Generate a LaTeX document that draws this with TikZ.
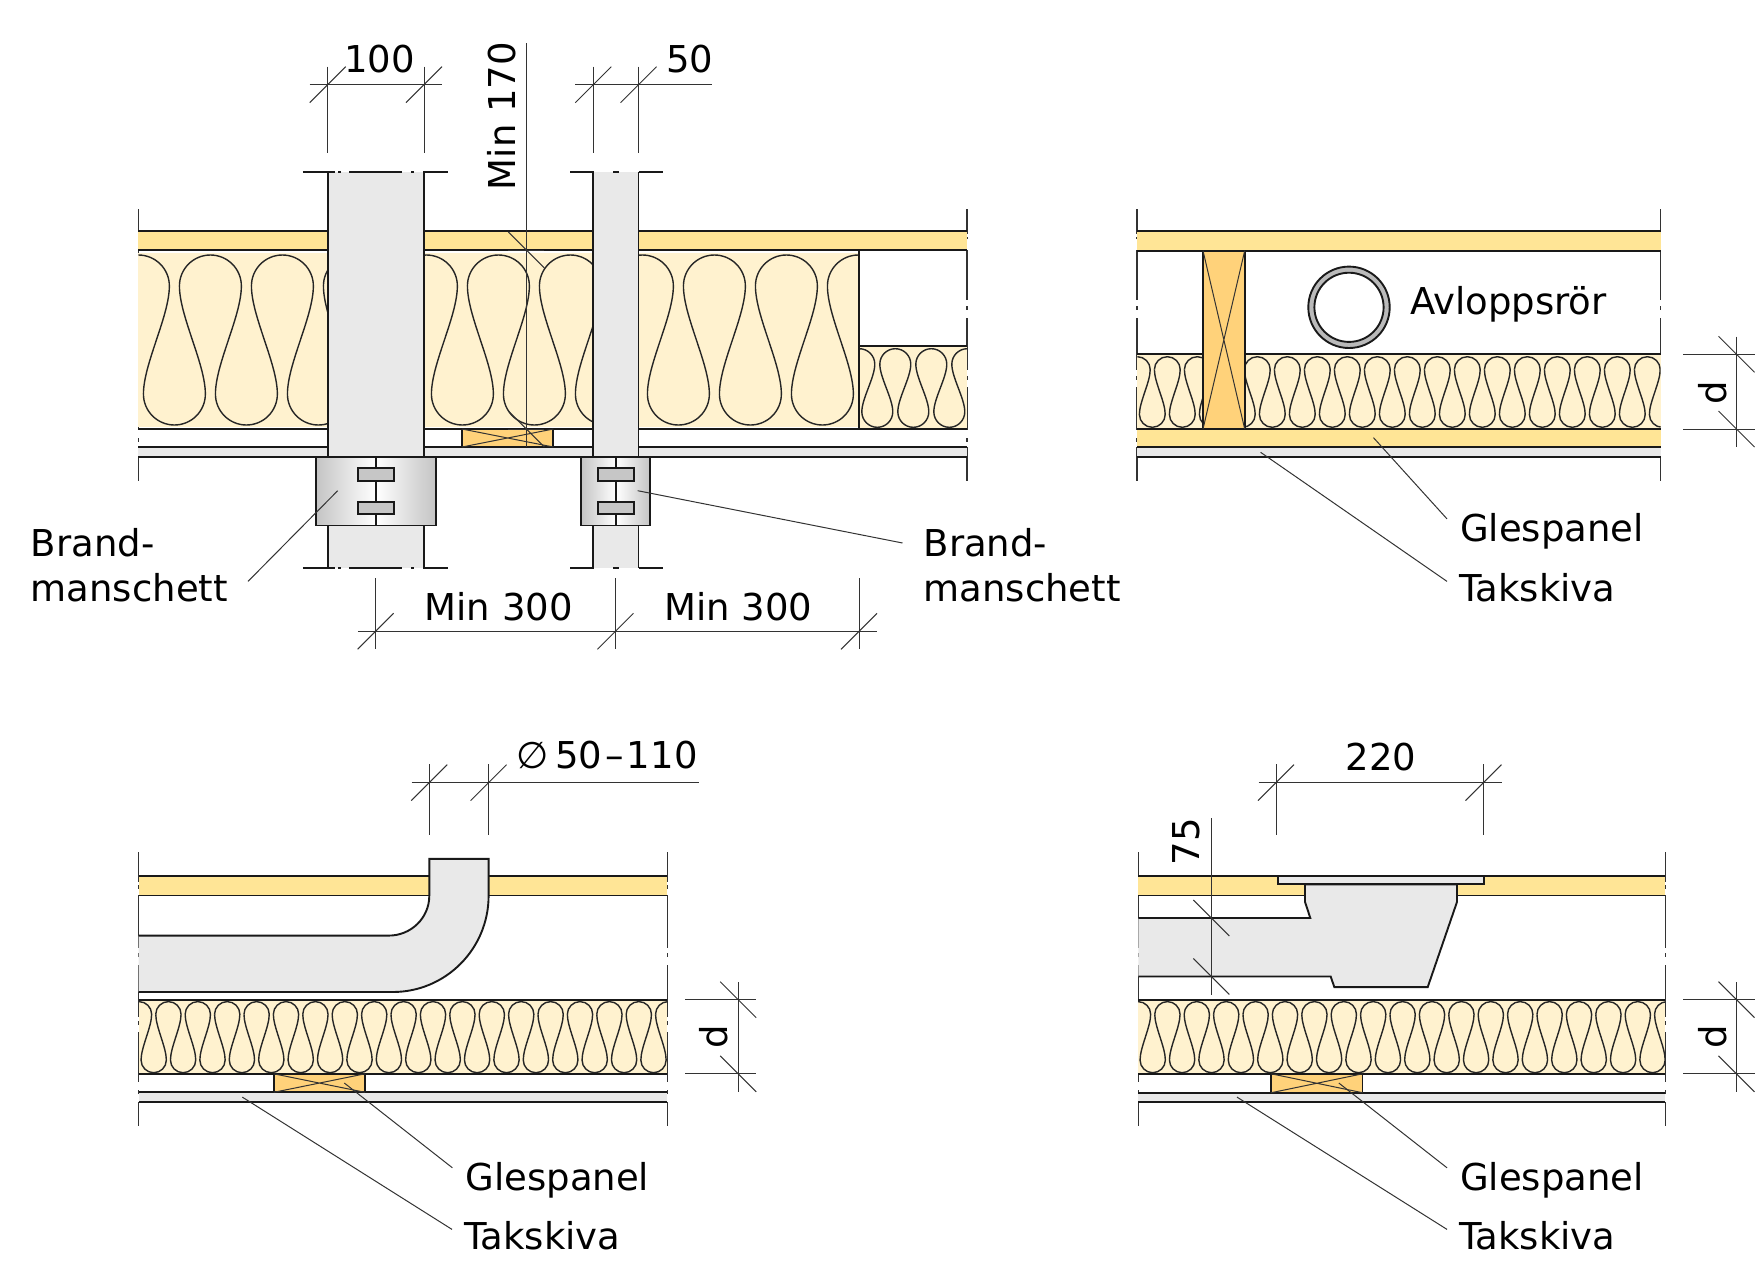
\documentclass[tikz,border=0pt]{standalone}
\usepackage{fontspec}
\setmainfont{DejaVu Sans}
\definecolor{deckyellow}{HTML}{FFE596}
\definecolor{woolyellow}{HTML}{FFF2CF}
\definecolor{timberorange}{HTML}{FFD27A}
\definecolor{boardgrey}{HTML}{E9E9E9}
\definecolor{collargrey}{HTML}{C4C4C4}
\definecolor{dimgrey}{HTML}{333333}
\newcommand{\batts}[5]{% from, to, top, bottom, period
  \fill[woolyellow] (#1,#3-2.5) rectangle (#2,#4+2);
  \begin{scope}
    \clip (#1,#3-2.5) rectangle (#2,#4+2);
    \pgfmathsetmacro{\rr}{0.43*#5}
    \pgfmathsetmacro{\kk}{0.5523*\rr}
    \pgfmathsetmacro{\aa}{0.28*(#4-#3-2*\rr)}
    \pgfmathsetmacro{\nn}{int((#2-#1)/#5)+1}
    \foreach \k in {-1,...,\nn}{
      \pgfmathsetmacro{\c}{#1+\k*#5}
      \pgfmathsetmacro{\m}{\c+0.5*#5}
      \pgfmathsetmacro{\ttop}{#3+\rr}
      \pgfmathsetmacro{\tbot}{#4-\rr}
      \draw[wool] (\c-\rr,\ttop)
        .. controls (\c-\rr,\ttop-\kk) and (\c-\kk,#3) .. (\c,#3)
        .. controls (\c+\kk,#3) and (\c+\rr,\ttop-\kk) .. (\c+\rr,\ttop)
        .. controls (\c+\rr,\ttop+\aa) and (\m-\rr,\tbot-\aa) .. (\m-\rr,\tbot)
        .. controls (\m-\rr,\tbot+\kk) and (\m-\kk,#4) .. (\m,#4)
        .. controls (\m+\kk,#4) and (\m+\rr,\tbot+\kk) .. (\m+\rr,\tbot)
        .. controls (\m+\rr,\tbot-\aa) and (\c+#5-\rr,\ttop+\aa) .. (\c+#5-\rr,\ttop);
    }
  \end{scope}
}
\newcommand{\fwdtick}[2]{\draw[dimline] (#1-18,#2+18) -- (#1+18,#2-18);}
\newcommand{\backtick}[2]{\draw[dimline] (#1-18,#2-18) -- (#1+18,#2+18);}
\newcommand{\deck}[4]{% from, to, top, bottom
  \fill[deckyellow] (#1,#3) rectangle (#2,#4);
  \draw[heavy] (#1,#3) -- (#2,#3) (#1,#4) -- (#2,#4);
}
\newcommand{\board}[4]{% from, to, top, bottom
  \fill[boardgrey] (#1,#3) rectangle (#2,#4);
  \draw[heavy] (#1,#3) -- (#2,#3) (#1,#4) -- (#2,#4);
}
\newcommand{\timber}[4]{
  \draw[heavy,fill=timberorange] (#1,#3) rectangle (#2,#4);
  \draw[leader] (#1,#3) -- (#2,#4) (#1,#4) -- (#2,#3);
}
\newcommand{\collar}[5]{% left, right, middle, clip left, clip right
  \shade[left color=collargrey,right color=collargrey,middle color=white] (#1,456.7) rectangle (#2,525.5);
  \draw[heavy] (#1,456.7) rectangle (#2,525.5);
  \draw[heavy] (#3,456.7) -- (#3,525.5);
  \draw[heavy,fill=boardgrey!85!black] (#4,468.3) rectangle (#5,480.7);
  \draw[heavy,fill=boardgrey!85!black] (#4,501.7) rectangle (#5,514);
}
\begin{document}
\begin{tikzpicture}[
    x=1pt, y=-1pt,
    every node/.style={font=\fontsize{37}{44}\selectfont, inner sep=0pt, text=black},
    heavy/.style={line width=1.9pt, color=black!90},
    wool/.style={line width=1.4pt, color=black!85},
    dimline/.style={line width=1pt, color=dimgrey},
    edge/.style={line width=1.4pt, color=black!80},
    leader/.style={line width=1pt, color=black!80},
    lbl/.style={anchor=base west},
    dimlbl/.style={anchor=base},
    dimrot/.style={anchor=base, rotate=90}
  ]
  \useasboundingbox (0,0) rectangle (1759,1269);

  \foreach \xe in {138.4,967,1137,1660.7}{
    \foreach \a/\b in {209/234,237/239,250/300,306/310,318/370,376/380,387/430,438/442,447/481}{
      \draw[edge] (\xe,\a) -- (\xe,\b);
    }
  }
  \foreach \xe in {138.7,667.3,1138.3,1665.2}{
    \foreach \a/\b in {852/882,885/889,895/948,953/957,965/1017,1021/1025,1032/1082,1090/1094,1102/1126}{
      \draw[edge] (\xe,\a) -- (\xe,\b);
    }
  }

  \batts{138.4}{859.3}{255}{425}{72}
  \batts{859.3}{967}{348.7}{427.3}{36}
  \deck{138.4}{967}{231}{250}
  \draw[heavy] (859.3,250) -- (859.3,429);
  \draw[heavy] (859.3,346) -- (967,346);
  \draw[heavy] (138.4,429) -- (967,429);
  \board{138.4}{967}{447}{456.7}
  \timber{462}{553.3}{429}{447}

  \foreach \pa/\pb/\ca/\cb/\cm/\cc/\cd in {327.7/424/315.7/435.7/375.7/358/393.7,593.3/638.5/581.3/650.3/615.7/598/633.7}{
    \fill[boardgrey] (\pa,172) rectangle (\pb,568.3);
    \draw[heavy] (\pa,172) -- (\pa,568.3) (\pb,172) -- (\pb,568.3);
    \collar{\ca}{\cb}{\cm}{\cc}{\cd}
  }
  \foreach \a/\b in {302.8/335,338/341,349/402,411/414,423/447.5,570/593.5,613/618.5,638.5/662.5}{
    \draw[heavy] (\a,172) -- (\b,172);
    \draw[heavy] (\a,568.3) -- (\b,568.3);
  }

  \draw[dimline] (309.7,84.7) -- (441.7,84.7);
  \draw[dimline] (327.7,66.7) -- (327.7,153) (424,66.7) -- (424,153);
  \fwdtick{327.7}{84.7}
  \fwdtick{424}{84.7}
  \node[dimlbl] (dimhundred) at (379.4,72.7) {100};

  \draw[dimline] (575.3,84.7) -- (712,84.7);
  \draw[dimline] (593.3,66.7) -- (593.3,153) (638.5,66.7) -- (638.5,153);
  \fwdtick{593.3}{84.7}
  \fwdtick{638.5}{84.7}
  \node[dimlbl] (dimfifty) at (690,72.7) {50};

  \draw[dimline] (526.3,43) -- (526.3,447);
  \draw[dimline] (508,250) -- (544,250) (508,429) -- (544,429);
  \backtick{526.3}{250}
  \backtick{526.3}{429}
  \node[dimrot] (dimsill) at (515.2,116) {Min 170};

  \draw[dimline] (357.8,631.3) -- (876.9,631.3);
  \draw[dimline] (375.6,578.3) -- (375.6,649.3) (615.4,578.3) -- (615.4,649.3) (859,578.3) -- (859,649.3);
  \fwdtick{375.6}{631.3}
  \fwdtick{615.4}{631.3}
  \fwdtick{859}{631.3}
  \node[dimlbl] (dimleft) at (498.7,620) {Min 300};
  \node[dimlbl] (dimright) at (738.5,620) {Min 300};

  \node[lbl] (brandA) at (30.6,556) {Brand-};
  \node[lbl] (manschettA) at (30.6,601) {manschett};
  \node[lbl] (brandB) at (923.5,556) {Brand-};
  \node[lbl] (manschettB) at (923.5,601) {manschett};
  \draw[leader] (337.7,490.7) -- ([xshift=20pt,yshift=-8.7pt]manschettA.north east);
  \draw[leader] (637.7,490.7) -- ([xshift=-21pt,yshift=-15.3pt]brandB.north west);

  \batts{1137.3}{1660.7}{356.7}{427.3}{30}
  \deck{1137}{1660.7}{231}{250.7}
  \draw[heavy] (1137,354.3) -- (1660.7,354.3);
  \deck{1137}{1660.7}{429}{447.3}
  \board{1137}{1660.7}{447.3}{456.7}
  \timber{1203}{1244.7}{250.7}{429}
  \draw[heavy,fill=boardgrey!80!black] (1349,307.3) circle (40.7);
  \draw[heavy,fill=white] (1349,307.3) circle (34.6);
  \node[lbl] (drainpipe) at (1410,314.3) {Avloppsrör};

  \draw[dimline] (1683,354.3) -- (1754.5,354.3) (1683,429) -- (1754.5,429);
  \draw[dimline] (1736.5,336.7) -- (1736.5,446.7);
  \backtick{1736.5}{354.3}
  \backtick{1736.5}{429}
  \node[dimrot] (dimdepthB) at (1726,392.7) {d};

  \node[lbl] (glesB) at (1460,541.7) {Glespanel};
  \node[lbl] (takB) at (1459,601) {Takskiva};
  \draw[leader] (1373.5,437.7) -- ([xshift=-13pt,yshift=-5.5pt]glesB.north west);
  \draw[leader] (1260.6,452.3) -- ([xshift=-12pt,yshift=-8.7pt]takB.north west);

  \deck{138.7}{667.3}{876.4}{895.5}
  \batts{139}{667.3}{1001.6}{1072.7}{29.4}
  \draw[heavy] (138.7,999.7) -- (667.3,999.7) (138.7,1073.8) -- (667.3,1073.8);
  \board{138.7}{667.3}{1092.3}{1101.6}
  \timber{273.8}{365}{1073.8}{1092.3}
  \fill[boardgrey] (429.3,858.9) -- (488.6,858.9) -- (488.6,895.7)
    .. controls (488.6,949) and (445.6,992) .. (392.8,992) -- (138.7,992) -- (138.7,935.6) -- (388.7,935.6)
    .. controls (411,935.6) and (429.3,918) .. (429.3,895.7) -- cycle;
  \draw[heavy] (138.7,935.6) -- (388.7,935.6)
    .. controls (411,935.6) and (429.3,918) .. (429.3,895.7) -- (429.3,858.9) -- (488.6,858.9) -- (488.6,895.7)
    .. controls (488.6,949) and (445.6,992) .. (392.8,992) -- (138.7,992);

  \draw[dimline] (411.5,782.6) -- (699.2,782.6);
  \draw[dimline] (429.3,764.4) -- (429.3,834.8) (488.6,764.4) -- (488.6,834.8);
  \fwdtick{429.3}{782.6}
  \fwdtick{488.6}{782.6}
  \node[lbl] (dimdiam) at (516,768.8) {∅\kern7pt 50\kern3pt–\kern3pt 110};

  \draw[dimline] (685,999.7) -- (755.6,999.7) (685,1073.8) -- (755.6,1073.8);
  \draw[dimline] (738.2,982) -- (738.2,1091.6);
  \backtick{738.2}{999.7}
  \backtick{738.2}{1073.8}
  \node[dimrot] (dimdepthC) at (727.4,1037) {d};

  \node[lbl] (glesC) at (465.4,1190.6) {Glespanel};
  \node[lbl] (takC) at (464,1249) {Takskiva};
  \draw[leader] (344.3,1083) -- ([xshift=-13pt,yshift=-5.5pt]glesC.north west);
  \draw[leader] (242.3,1097.1) -- ([xshift=-12pt,yshift=-8.7pt]takC.north west);

  \deck{1138.3}{1665.2}{876.4}{895.5}
  \batts{1138}{1665.2}{1001.6}{1072.7}{29.4}
  \draw[heavy] (1138.3,999.7) -- (1665.2,999.7) (1138.3,1073.8) -- (1665.2,1073.8);
  \board{1138.3}{1665.2}{1092.7}{1101.6}
  \timber{1271.2}{1362.5}{1073.8}{1092.7}
  \fill[boardgrey] (1305,884.3) -- (1457,884.3) -- (1457,901.9) -- (1427.7,987.1) -- (1334.3,987.1)
    -- (1330.7,976.5) -- (1138.3,976.5) -- (1138.3,918) -- (1310.3,918) -- (1305,901.9) -- cycle;
  \draw[heavy] (1138.3,918) -- (1310.3,918) -- (1305,901.9) -- (1305,884.3) -- (1457,884.3)
    -- (1457,901.9) -- (1427.7,987.1) -- (1334.3,987.1) -- (1330.7,976.5) -- (1138.3,976.5);
  \draw[heavy,fill=boardgrey] (1277.7,876.4) rectangle (1484.3,884.3);

  \draw[dimline] (1258.5,782.6) -- (1501.8,782.6);
  \draw[dimline] (1276,764.4) -- (1276,834.8) (1483.5,764.4) -- (1483.5,834.8);
  \fwdtick{1276}{782.6}
  \fwdtick{1483.5}{782.6}
  \node[dimlbl] (dimdrain) at (1380.8,770.6) {220};

  \draw[dimline] (1211.3,818.3) -- (1211.3,994.7);
  \backtick{1211.3}{918}
  \backtick{1211.3}{976.5}
  \node[dimrot] (dimoutlet) at (1199.5,841.7) {75};

  \draw[dimline] (1683,999.7) -- (1754.5,999.7) (1683,1073.8) -- (1754.5,1073.8);
  \draw[dimline] (1736.5,982) -- (1736.5,1091.6);
  \backtick{1736.5}{999.7}
  \backtick{1736.5}{1073.8}
  \node[dimrot] (dimdepthD) at (1726,1037) {d};

  \node[lbl] (glesD) at (1460,1190.6) {Glespanel};
  \node[lbl] (takD) at (1459,1249) {Takskiva};
  \draw[leader] (1338.8,1083) -- ([xshift=-13pt,yshift=-5.5pt]glesD.north west);
  \draw[leader] (1237,1097.1) -- ([xshift=-12pt,yshift=-8.7pt]takD.north west);
\end{tikzpicture}
\end{document}
